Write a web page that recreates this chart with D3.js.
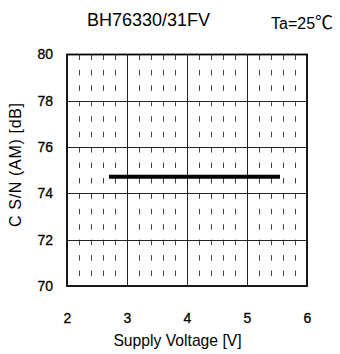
<!DOCTYPE html>
<html><head><meta charset="utf-8">
<script src="https://cdn.jsdelivr.net/npm/d3@7/dist/d3.min.js"></script>
<style>
html,body{margin:0;padding:0;background:#fff;}
svg{display:block;}
</style></head>
<body>
<svg id="chart" width="340" height="354"></svg>
<script>
const titleText = "BH76330/31FV";
const condText = "Ta=25";
const condUnit = "\u2103";
const xLabel = "Supply Voltage [V]";
const yLabel = "C S/N (AM) [dB]";
const xTicks = [2, 3, 4, 5, 6];
const yTicks = [70, 72, 74, 76, 78, 80];
const voltage = [2.7, 5.55];
const csn = [74.72, 74.72];

const svg = d3.select("#chart");
const x = d3.scaleLinear().domain([2, 6]).range([67, 307]);
const y = d3.scaleLinear().domain([70, 80]).range([286, 54.5]);

const tickFont = "'Liberation Sans Narrow','Arial Narrow','Liberation Sans',Arial,sans-serif";
const textFont = "'Liberation Sans',Arial,sans-serif";

// minor vertical dashed lines
const minor = d3.range(2, 6.001, 0.2).filter(v => Math.abs(v - Math.round(v)) > 0.01);
const cyc = (y(78) - y(80)) / 3;
svg.append("g").selectAll("line").data(minor).join("line")
  .attr("x1", d => Math.round(x(d)) + 0.5).attr("x2", d => Math.round(x(d)) + 0.5)
  .attr("y1", y(80)).attr("y2", y(70))
  .attr("stroke", "#444").attr("stroke-width", 1)
  .attr("stroke-dasharray", `5.5,${cyc - 5.5}`);

// major grid
svg.append("g").selectAll("line").data(xTicks.slice(1, -1)).join("line")
  .attr("x1", d => Math.round(x(d)) + 0.5).attr("x2", d => Math.round(x(d)) + 0.5)
  .attr("y1", y(80)).attr("y2", y(70))
  .attr("stroke", "#222").attr("stroke-width", 1);
svg.append("g").selectAll("line").data(yTicks.slice(1, -1)).join("line")
  .attr("x1", x(2)).attr("x2", x(6))
  .attr("y1", d => Math.round(y(d)) + 0.5).attr("y2", d => Math.round(y(d)) + 0.5)
  .attr("stroke", "#222").attr("stroke-width", 1);

// frame
svg.append("rect").attr("x", x(2)).attr("y", y(80))
  .attr("width", x(6) - x(2)).attr("height", y(70) - y(80))
  .attr("fill", "none").attr("stroke", "#000").attr("stroke-width", 1.8);

// axes labels via d3 axes (no domain / tick lines)
const xAxis = svg.append("g").attr("transform", `translate(0,${y(70)})`)
  .call(d3.axisBottom(x).tickValues(xTicks).tickFormat(d3.format("d")).tickSize(0).tickPadding(27));
xAxis.select(".domain").remove();
xAxis.selectAll("text").attr("font-family", tickFont).attr("font-size", 14)
  .attr("fill", "#000").attr("stroke", "#000").attr("stroke-width", 0.3);

const yAxis = svg.append("g").attr("transform", `translate(${x(2)},0)`)
  .call(d3.axisLeft(y).tickValues(yTicks).tickFormat(d3.format("d")).tickSize(0).tickPadding(14));
yAxis.select(".domain").remove();
yAxis.selectAll("text").attr("font-family", tickFont).attr("font-size", 14)
  .attr("fill", "#000").attr("stroke", "#000").attr("stroke-width", 0.3);

// data line
svg.append("path")
  .datum(voltage.map((v, i) => [v, csn[i]]))
  .attr("d", d3.line().x(d => x(d[0])).y(d => y(d[1])))
  .attr("fill", "none").attr("stroke", "#000").attr("stroke-width", 4);

// titles
svg.append("text").attr("x", 148.5).attr("y", 26).attr("text-anchor", "middle")
  .attr("font-family", textFont).attr("font-size", 18).text(titleText);
const cond = svg.append("text").attr("x", 271).attr("y", 29)
  .attr("font-family", textFont).attr("font-size", 16);
cond.append("tspan").text(condText);
cond.append("tspan").attr("font-family", "'Noto Sans CJK JP','Noto Sans CJK SC',sans-serif")
  .attr("font-size", 18).text(condUnit);
svg.append("text").attr("x", 177.5).attr("y", 346).attr("text-anchor", "middle")
  .attr("font-family", textFont).attr("font-size", 15.7).text(xLabel);
svg.append("text").attr("transform", `translate(21,165) rotate(-90)`)
  .attr("text-anchor", "middle")
  .attr("font-family", textFont).attr("font-size", 16)
  .attr("textLength", 124).attr("lengthAdjust", "spacing").text(yLabel);
</script>
</body></html>
